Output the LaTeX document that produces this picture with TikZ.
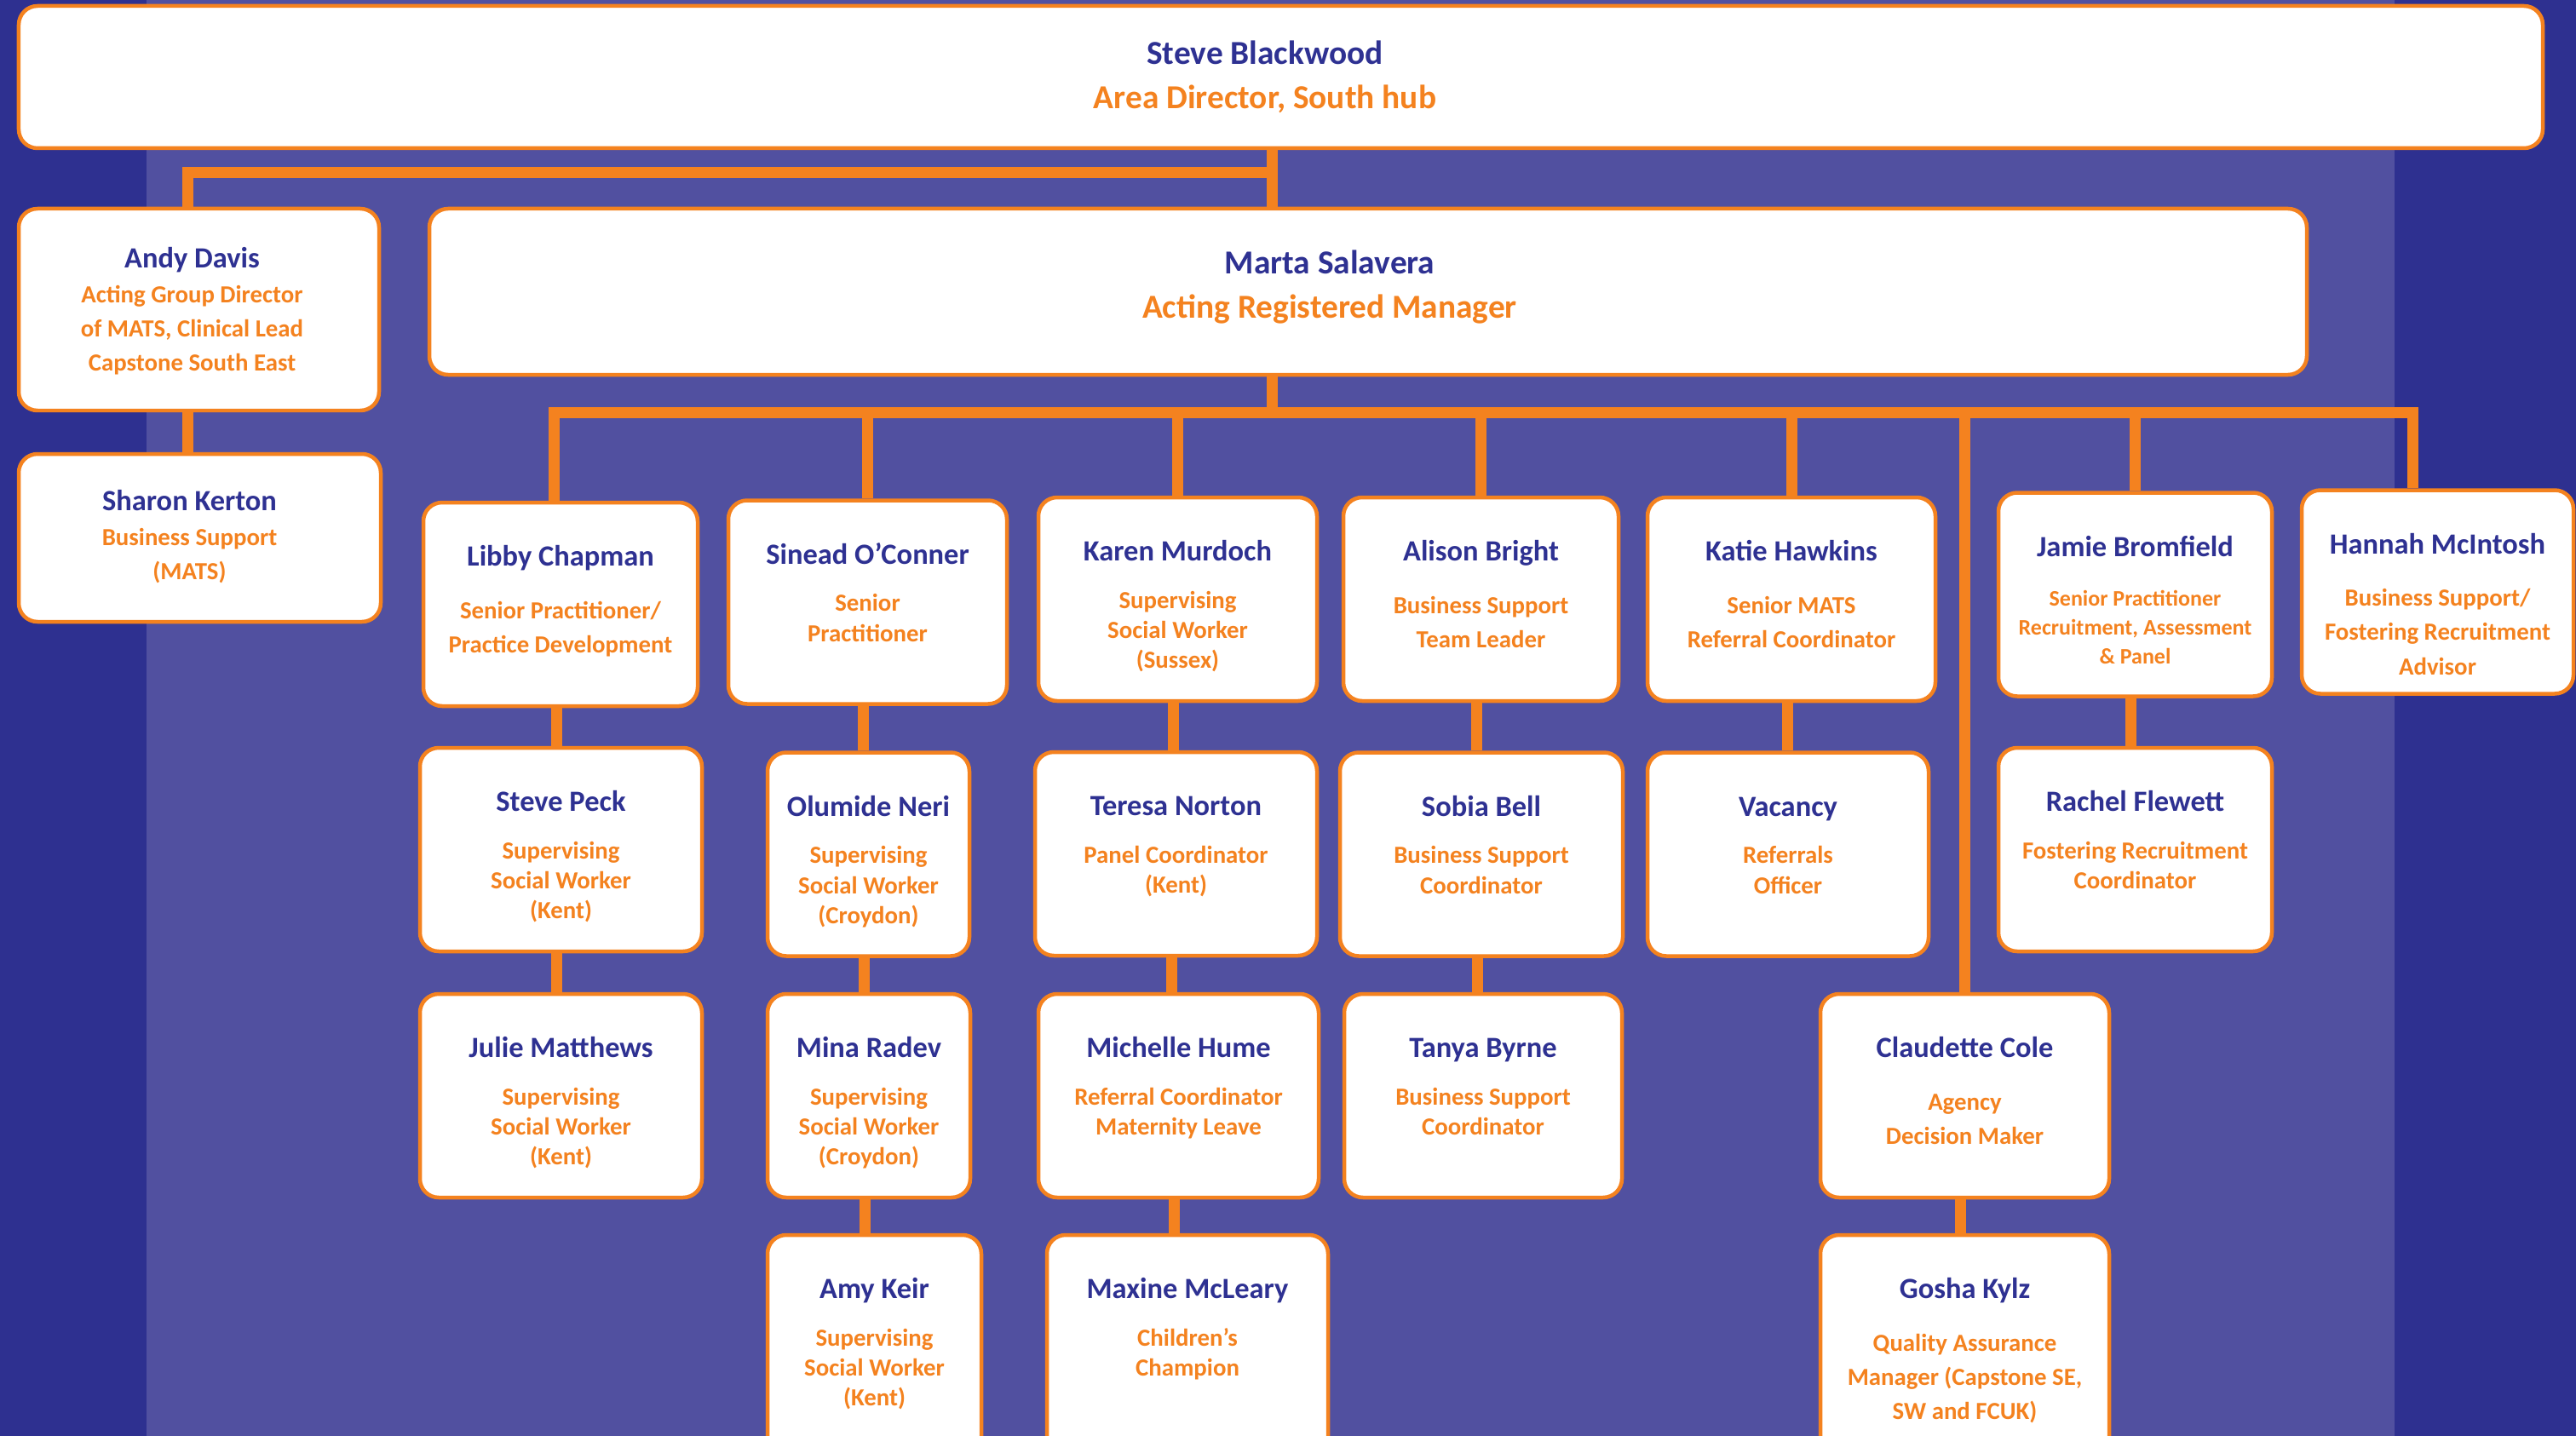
\documentclass[tikz,border=0pt]{standalone}
\usepackage{fontspec}
\setmainfont{Carlito}
\usetikzlibrary{positioning}
\definecolor{bgdark}{HTML}{2E3090}
\definecolor{bgpanel}{HTML}{5150A0}
\definecolor{orgline}{HTML}{F4821F}
\definecolor{navytext}{HTML}{2E3192}
% name lines
\newcommand{\who}[1]{{\color{navytext}\fontsize{9.8}{10}\selectfont\rule{0pt}{8pt}#1}}
\newcommand{\lead}[1]{{\color{navytext}\rule{0pt}{9pt}#1}}
\tikzset{
	box/.style={rectangle, rounded corners=0.22cm, draw=orgline, line width=0.045cm, fill=white, inner sep=0pt, minimum height=2.39cm},
	link/.style={draw=orgline, line width=0.13cm},
	tight/.style={align=center, inner sep=0pt, text=orgline, font=\bfseries\fontsize{8.2}{10}\selectfont},
	loose/.style={tight, font=\bfseries\fontsize{8.2}{11.4}\selectfont},
	small/.style={tight, font=\bfseries\fontsize{7.4}{9.7}\selectfont},
	big/.style={align=center, inner sep=0pt, text=orgline, font=\bfseries\fontsize{11.2}{14.8}\selectfont}
}
\begin{document}
\begin{tikzpicture}
	\useasboundingbox (0,0) rectangle (30.24,-16.86);
	\fill[bgdark] (0,0) rectangle (30.24,-16.86);
	\fill[bgpanel] (1.72,0) rectangle (28.11,-16.86);

	% top of the tree
	\node (head) [box, minimum width=29.63cm, minimum height=1.67cm] at (15.035,-0.905) {};
	\node (headT) [big, anchor=north] at (14.85,-0.43) {\lead{Steve Blackwood}\\Area Director, South hub};
	\node (marta) [box, minimum width=22.04cm, minimum height=1.95cm] at (16.06,-3.425) {};
	\node (martaT) [big, anchor=north] at (15.61,-2.89) {\lead{Marta Salavera}\\Acting Registered Manager};

	% left column
	\node (andy) [box, minimum width=4.23cm, minimum height=2.37cm] at (2.335,-3.635) {};
	\node (andyT) [loose, below=0.43cm of andy.north, xshift=-0.08cm] {\who{Andy Davis}\\[0.3pt]Acting Group Director\\of MATS, Clinical Lead\\Capstone South East};
	\node (sharon) [box, minimum width=4.25cm, minimum height=1.97cm] at (2.345,-6.315) {};
	\node (sharonT) [loose, below=0.40cm of sharon.north, xshift=-0.12cm] {\who{Sharon Kerton}\\[0.3pt]Business Support\\(MATS)};

	% first row
	\node (libby) [box, minimum width=3.22cm] at (6.58,-7.095) {};
	\node (libbyT) [loose, below=0.48cm of libby.north] {\who{Libby Chapman}\\[6.2pt]Senior Practitioner/\\Practice Development};
	\node (sinead) [box, minimum width=3.27cm] at (10.185,-7.07) {};
	\node (sineadT) [tight, below=0.48cm of sinead.north] {\who{Sinead O’Conner}\\[5.9pt]Senior\\Practitioner};
	\node (karen) [box, minimum width=3.27cm] at (13.825,-7.035) {};
	\node (karenT) [tight, below=0.48cm of karen.north] {\who{Karen Murdoch}\\[5.9pt]Supervising\\Social Worker\\(Sussex)};
	\node (alison) [box, minimum width=3.23cm] at (17.385,-7.035) {};
	\node (alisonT) [loose, below=0.48cm of alison.north] {\who{Alison Bright}\\[6.2pt]Business Support\\Team Leader};
	\node (katie) [box, minimum width=3.38cm] at (21.03,-7.035) {};
	\node (katieT) [loose, below=0.48cm of katie.north] {\who{Katie Hawkins}\\[6.2pt]Senior MATS\\Referral Coordinator};
	\node (jamie) [box, minimum width=3.21cm] at (25.065,-6.98) {};
	\node (jamieT) [small, below=0.48cm of jamie.north] {\who{Jamie Bromfield}\\[6.8pt]Senior Practitioner\\Recruitment, Assessment\\\& Panel};
	\node (hannah) [box, minimum width=3.19cm] at (28.615,-6.95) {};
	\node (hannahT) [loose, below=0.48cm of hannah.north] {\who{Hannah McIntosh}\\[6.2pt]Business Support/\\Fostering Recruitment\\Advisor};

	% second row
	\node (steve) [box, minimum width=3.31cm] at (6.585,-9.975) {};
	\node (steveT) [tight, below=0.48cm of steve.north] {\who{Steve Peck}\\[5.9pt]Supervising\\Social Worker\\(Kent)};
	\node (olumide) [box, minimum width=2.37cm] at (10.195,-10.03) {};
	\node (olumideT) [tight, below=0.48cm of olumide.north] {\who{Olumide Neri}\\[5.9pt]Supervising\\Social Worker\\(Croydon)};
	\node (teresa) [box, minimum width=3.31cm] at (13.805,-10.025) {};
	\node (teresaT) [tight, below=0.48cm of teresa.north] {\who{Teresa Norton}\\[5.9pt]Panel Coordinator\\(Kent)};
	\node (sobia) [box, minimum width=3.32cm] at (17.39,-10.03) {};
	\node (sobiaT) [tight, below=0.48cm of sobia.north] {\who{Sobia Bell}\\[5.9pt]Business Support\\Coordinator};
	\node (vacancy) [box, minimum width=3.30cm] at (20.99,-10.03) {};
	\node (vacancyT) [tight, below=0.48cm of vacancy.north] {\who{Vacancy}\\[5.9pt]Referrals\\Officer};
	\node (rachel) [box, minimum width=3.21cm] at (25.065,-9.975) {};
	\node (rachelT) [tight, below=0.48cm of rachel.north] {\who{Rachel Flewett}\\[5.9pt]Fostering Recruitment\\Coordinator};

	% third row
	\node (julie) [box, minimum width=3.31cm] at (6.585,-12.865) {};
	\node (julieT) [tight, below=0.48cm of julie.north] {\who{Julie Matthews}\\[5.9pt]Supervising\\Social Worker\\(Kent)};
	\node (mina) [box, minimum width=2.38cm] at (10.2,-12.865) {};
	\node (minaT) [tight, below=0.48cm of mina.north] {\who{Mina Radev}\\[5.9pt]Supervising\\Social Worker\\(Croydon)};
	\node (michelle) [box, minimum width=3.29cm] at (13.835,-12.865) {};
	\node (michelleT) [tight, below=0.48cm of michelle.north] {\who{Michelle Hume}\\[5.9pt]Referral Coordinator\\Maternity Leave};
	\node (tanya) [box, minimum width=3.26cm] at (17.41,-12.865) {};
	\node (tanyaT) [tight, below=0.48cm of tanya.north] {\who{Tanya Byrne}\\[5.9pt]Business Support\\Coordinator};
	\node (claudette) [box, minimum width=3.39cm] at (23.065,-12.865) {};
	\node (claudetteT) [loose, below=0.48cm of claudette.north] {\who{Claudette Cole}\\[6.2pt]Agency\\Decision Maker};

	% fourth row
	\node (amy) [box, minimum width=2.51cm, minimum height=2.6cm] at (10.265,-15.8) {};
	\node (amyT) [tight, below=0.48cm of amy.north] {\who{Amy Keir}\\[5.9pt]Supervising\\Social Worker\\(Kent)};
	\node (maxine) [box, minimum width=3.30cm, minimum height=2.6cm] at (13.94,-15.8) {};
	\node (maxineT) [tight, below=0.48cm of maxine.north] {\who{Maxine McLeary}\\[5.9pt]Children’s\\Champion};
	\node (gosha) [box, minimum width=3.39cm, minimum height=2.6cm] at (23.065,-15.8) {};
	\node (goshaT) [loose, below=0.48cm of gosha.north] {\who{Gosha Kylz}\\[6.2pt]Quality Assurance\\Manager (Capstone SE,\\SW and FCUK)};

	% connectors
	\coordinate (hub) at (14.93,-2.03);
	\coordinate (spine) at (14.93,-4.84);
	\coordinate (spineR) at (28.32,-4.84);
	\coordinate (left) at (2.20,-2.03);
	\draw [link] (hub |- head.south) -- (hub |- marta.north);
	\draw [link] (hub) -- (left) -- (left |- andy.north);
	\draw [link] (left |- andy.south) -- (left |- sharon.north);
	\draw [link] (spine |- marta.south) -- (spine);
	\draw [link] ([xshift=-0.08cm]libby.north) |- (spineR) -- (spineR |- hannah.north);
	\foreach \n in {sinead, karen, alison, katie, jamie, claudette}
		\draw [link] (\n.north |- spine) -- (\n.north);
	\foreach \a/\b in {libby/steve, steve/julie, sinead/olumide, olumide/mina, mina/amy, karen/teresa, teresa/michelle, michelle/maxine, alison/sobia, sobia/tanya, katie/vacancy, jamie/rachel, claudette/gosha}
		\draw [link] ([xshift=-0.05cm]\a.south) -- ([xshift=-0.05cm]\a.south |- \b.north);
\end{tikzpicture}
\end{document}
